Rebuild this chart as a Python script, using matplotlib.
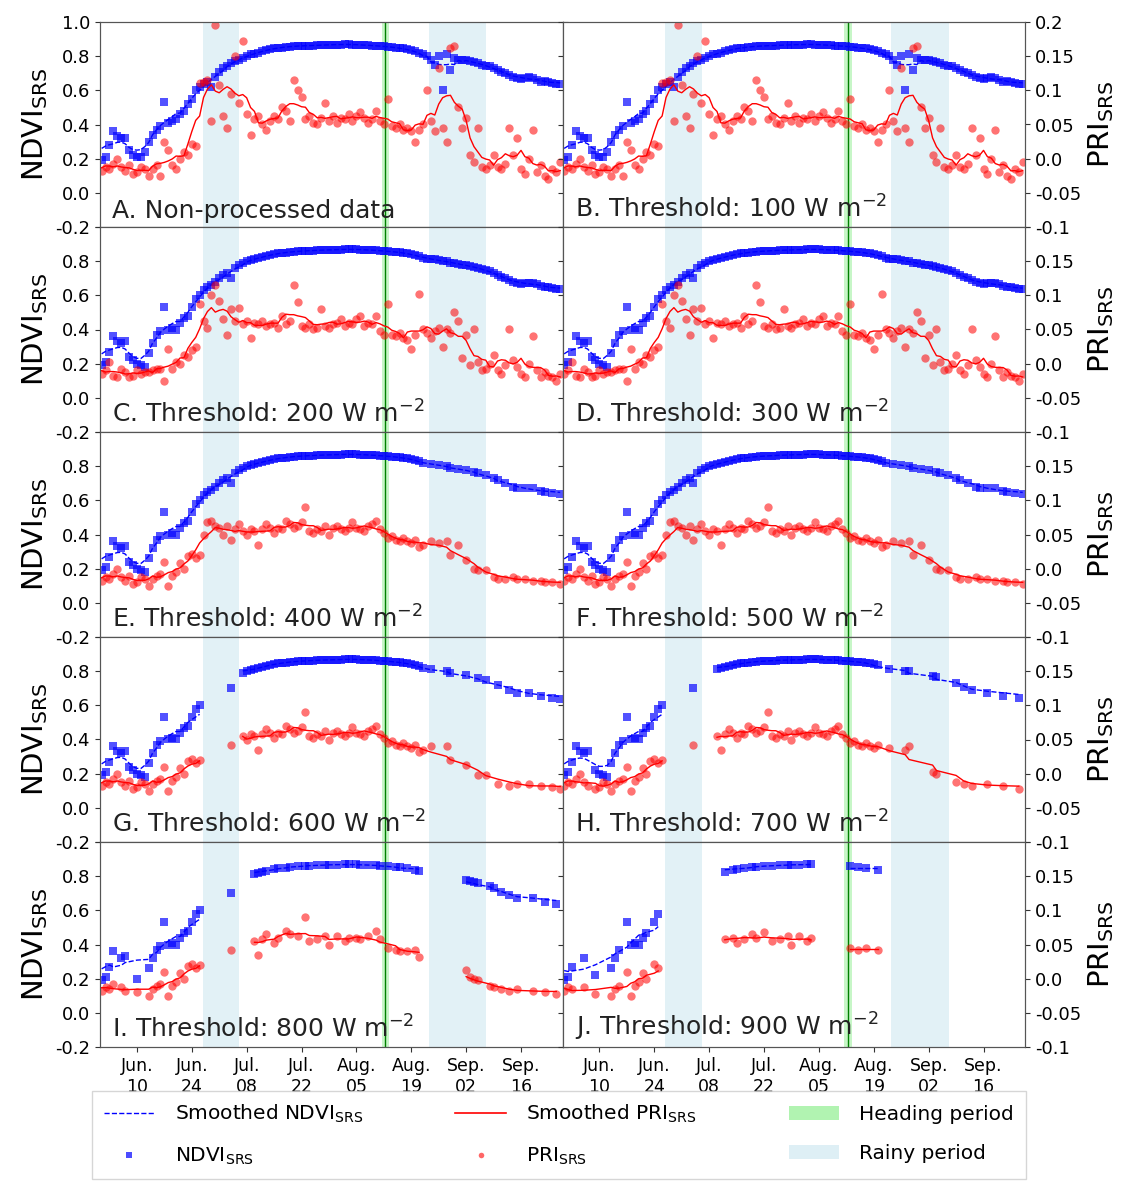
import numpy as np
import pandas as pd
import matplotlib
matplotlib.use('Agg')
import matplotlib.pyplot as plt
from matplotlib.lines import Line2D
from matplotlib.patches import Patch

# daily series, Jun 1 .. Sep 26
dates = pd.date_range('2019-06-01', '2019-09-26', freq='D')

ndvi_raw = [0.19, 0.21, 0.28, 0.36, 0.33, 0.32, 0.32, 0.25, 0.22, 0.21,
            0.21, 0.24, 0.30, 0.34, 0.37, 0.39, 0.53, 0.41, 0.42, 0.43,
            0.46, 0.48, 0.52, 0.55, 0.60, 0.62, 0.64, 0.65, 0.62, 0.68,
            0.71, 0.73, 0.74, 0.76, 0.77, 0.78, 0.79, 0.80, 0.81, 0.815,
            0.82, 0.83, 0.835, 0.84, 0.845, 0.85, 0.85, 0.855, 0.855, 0.86,
            0.86, 0.86, 0.86, 0.862, 0.862, 0.865, 0.865, 0.865, 0.866, 0.867,
            0.868, 0.868, 0.87, 0.87, 0.868, 0.868, 0.866, 0.865, 0.864, 0.862,
            0.86, 0.86, 0.858, 0.855, 0.853, 0.85, 0.848, 0.845, 0.84, 0.835,
            0.83, 0.82, 0.81, 0.80, 0.78, 0.75, 0.80, 0.60, 0.81, 0.72,
            0.79, 0.78, 0.78, 0.775, 0.77, 0.765, 0.76, 0.75, 0.745, 0.74,
            0.73, 0.72, 0.71, 0.70, 0.69, 0.68, 0.67, 0.665, 0.67, 0.68,
            0.67, 0.66, 0.65, 0.655, 0.65, 0.645, 0.64, 0.64]

pri_raw = [-0.018, -0.012, -0.015, -0.008, 0.000, -0.012, -0.018, -0.010, -0.022, -0.020,
           -0.012, -0.015, -0.025, -0.015, -0.010, -0.025, 0.025, 0.012, -0.010, -0.015,
           0.000, 0.010, 0.005, 0.022, 0.018, 0.110, 0.112, 0.115, 0.055, 0.195,
           0.108, 0.062, 0.045, 0.095, 0.150, 0.082, 0.172, 0.065, 0.035, 0.058,
           0.062, 0.050, 0.042, 0.055, 0.062, 0.058, 0.075, 0.070, 0.055, 0.115,
           0.100, 0.090, 0.058, 0.062, 0.052, 0.050, 0.060, 0.082, 0.055, 0.062,
           0.052, 0.060, 0.058, 0.065, 0.055, 0.062, 0.068, 0.060, 0.052, 0.058,
           0.070, 0.055, 0.050, 0.088, 0.048, 0.045, 0.050, 0.042, 0.045, 0.040,
           0.025, 0.042, 0.050, 0.100, 0.055, 0.040, 0.132, 0.045, 0.025, 0.162,
           0.165, 0.075, 0.045, 0.060, 0.005, -0.005, 0.045, -0.012, -0.015, -0.010,
           0.005, -0.012, -0.015, -0.008, 0.045, 0.005, 0.030, -0.015, -0.022, 0.000,
           0.042, -0.020, -0.010, -0.025, -0.030, -0.015, -0.020, -0.005]

ndvi_clean = [0.19, 0.21, 0.27, 0.36, 0.33, 0.32, 0.33, 0.24, 0.22, 0.20,
              0.19, 0.18, 0.26, 0.32, 0.37, 0.39, 0.53, 0.40, 0.41, 0.40,
              0.44, 0.47, 0.48, 0.53, 0.58, 0.60, 0.63, 0.65, 0.66, 0.68,
              0.70, 0.72, 0.73, 0.70, 0.76, 0.78, 0.79, 0.80, 0.805, 0.81,
              0.82, 0.825, 0.83, 0.835, 0.84, 0.845, 0.85, 0.85, 0.855, 0.855,
              0.858, 0.86, 0.86, 0.862, 0.862, 0.864, 0.865, 0.865, 0.866, 0.867,
              0.868, 0.868, 0.869, 0.87, 0.87, 0.869, 0.868, 0.867, 0.866, 0.865,
              0.863, 0.861, 0.86, 0.858, 0.856, 0.854, 0.852, 0.85, 0.845, 0.84,
              0.835, 0.83, 0.82, 0.815, 0.81, 0.81, 0.805, 0.80, 0.80, 0.79,
              0.79, 0.785, 0.78, 0.775, 0.77, 0.765, 0.76, 0.755, 0.75, 0.74,
              0.73, 0.72, 0.71, 0.70, 0.69, 0.68, 0.67, 0.665, 0.67, 0.675,
              0.67, 0.665, 0.655, 0.65, 0.65, 0.645, 0.64, 0.635]

pri_200 = [-0.015, -0.010, 0.002, -0.018, -0.020, -0.008, -0.012, -0.020, -0.018, -0.010,
           -0.015, -0.012, -0.012, -0.010, -0.008, -0.008, -0.025, 0.022, -0.008, 0.002,
           0.000, 0.012, 0.010, 0.020, 0.025, 0.088, 0.062, 0.052, 0.100, 0.115,
           0.092, 0.065, 0.042, 0.080, 0.062, 0.082, 0.058, 0.062, 0.038, 0.060,
           0.058, 0.062, 0.055, 0.058, 0.060, 0.052, 0.070, 0.058, 0.062, 0.115,
           0.090, 0.055, 0.052, 0.058, 0.050, 0.052, 0.080, 0.055, 0.052, 0.058,
           0.060, 0.065, 0.055, 0.060, 0.058, 0.065, 0.070, 0.055, 0.060, 0.058,
           0.070, 0.048, 0.042, 0.088, 0.042, 0.040, 0.045, 0.038, 0.035, 0.022,
           0.042, 0.102, 0.050, 0.045, 0.038, 0.048, 0.052, 0.025, 0.050, 0.045,
           0.075, 0.062, 0.008, 0.042, -0.002, 0.050, 0.002, -0.010, -0.008, 0.000,
           0.012, -0.010, -0.015, -0.002, 0.050, 0.005, -0.005, -0.015, -0.020, 0.000,
           0.040, -0.010, -0.020, -0.012, -0.018, -0.020, -0.025, -0.015]

pri_400 = [-0.018, -0.012, -0.015, -0.008, 0.000, -0.012, -0.018, -0.010, -0.022, -0.020,
           -0.012, -0.015, -0.025, -0.015, -0.010, -0.008, 0.010, -0.025, -0.010, -0.005,
           0.008, 0.000, 0.018, 0.022, 0.015, 0.020, 0.050, 0.068, 0.070, 0.062,
           0.060, 0.050, 0.062, 0.042, 0.058, 0.065, 0.055, 0.050, 0.058, 0.055,
           0.035, 0.058, 0.065, 0.060, 0.052, 0.060, 0.058, 0.070, 0.065, 0.060,
           0.062, 0.068, 0.090, 0.055, 0.052, 0.058, 0.055, 0.062, 0.050, 0.060,
           0.062, 0.058, 0.055, 0.060, 0.068, 0.060, 0.058, 0.055, 0.062, 0.065,
           0.070, 0.058, 0.052, 0.045, 0.048, 0.042, 0.040, 0.045, 0.040, 0.038,
           0.042, 0.032, 0.035, 0.038, 0.040, 0.025, 0.038, 0.035, 0.040, 0.020,
           0.032, 0.035, 0.025, 0.012, 0.002, 0.000, -0.002, -0.005, -0.002, -0.010,
           -0.012, -0.015, -0.015, -0.015, -0.018, -0.012, -0.015, -0.018, -0.015, -0.015,
           -0.018, -0.015, -0.018, -0.020, -0.018, -0.020, -0.022, -0.022]

# days with data (index from Jun 1), split where the smoothed line breaks
segs_all = [list(range(0, 118))]
segs_400 = [list(range(0, 83)) + [84, 86, 88, 89, 91, 93, 95, 96, 98, 100, 101, 103,
                                   105, 106, 108, 110, 112, 113, 115, 117]]
segs_600 = [list(range(0, 26)), [33],
            list(range(36, 83)) + [84, 88, 89, 93, 96, 98, 101, 104, 106, 109, 112, 115, 117]]
segs_700 = [[0, 1, 2, 3, 4, 5, 6, 8, 9, 10, 11, 12, 13, 14, 15, 16, 17, 18, 19, 20, 21, 22, 23, 24, 25],
            [33],
            list(range(39, 81)) + [83, 87, 88, 94, 95, 100, 102, 104, 108, 112, 116]]
segs_800 = [[0, 1, 2, 3, 5, 6, 9, 12, 13, 14, 15, 16, 17, 18, 19, 20, 21, 22, 23, 24, 25],
            [33],
            [39, 40, 41, 42, 44, 45, 47, 48, 50, 52, 53, 55, 57, 58, 60, 62, 63, 65, 66, 68,
             70, 71, 73, 75, 76, 78, 80, 81],
            [93, 94, 95, 96, 99, 100, 102, 104, 106, 110, 113, 116]]
segs_900 = [[0, 1, 2, 5, 8, 12, 13, 14, 16, 17, 18, 19, 20, 21, 23, 24],
            [41, 43, 44, 46, 48, 49, 51, 53, 55, 57, 58, 60, 62, 63],
            [73, 75, 77, 80]]

titles = ['A. Non-processed data', 'B. Threshold: 100 W m$^{-2}$',
          'C. Threshold: 200 W m$^{-2}$', 'D. Threshold: 300 W m$^{-2}$',
          'E. Threshold: 400 W m$^{-2}$', 'F. Threshold: 500 W m$^{-2}$',
          'G. Threshold: 600 W m$^{-2}$', 'H. Threshold: 700 W m$^{-2}$',
          'I. Threshold: 800 W m$^{-2}$', 'J. Threshold: 900 W m$^{-2}$']
panel_ndvi = [ndvi_raw, ndvi_raw] + [ndvi_clean] * 8
panel_pri = [pri_raw, pri_raw, pri_200, pri_200] + [pri_400] * 6
panel_segs = [segs_all, segs_all, segs_all, segs_all, segs_400, segs_400,
              segs_600, segs_700, segs_800, segs_900]

rainy = [('2019-06-26 18:00', '2019-07-06 02:00'), ('2019-08-23 10:00', '2019-09-07 02:00')]
heading = ('2019-08-11 12:00', '2019-08-13 10:00')
heading_line = '2019-08-12 10:00'

tick_dates = ['2019-06-10', '2019-06-24', '2019-07-08', '2019-07-22',
              '2019-08-05', '2019-08-19', '2019-09-02', '2019-09-16']
tick_labels = ['Jun.\n10', 'Jun.\n24', 'Jul.\n08', 'Jul.\n22',
               'Aug.\n05', 'Aug.\n19', 'Sep.\n02', 'Sep.\n16']
ndvi_ticks = [-0.2, 0.0, 0.2, 0.4, 0.6, 0.8, 1.0]
ndvi_labels = ['-0.2', '0.0', '0.2', '0.4', '0.6', '0.8', '1.0']
pri_ticks = [-0.1, -0.05, 0.0, 0.05, 0.1, 0.15, 0.2]
pri_labels = ['-0.1', '-0.05', '0.0', '0.05', '0.1', '0.15', '0.2']

assert all(len(s) == len(dates) for s in [ndvi_raw, pri_raw, ndvi_clean, pri_200, pri_400])

fig = plt.figure(figsize=(11.33, 11.82), dpi=100)
gs = fig.add_gridspec(5, 2, left=100/1133, right=1025/1133, top=1-22/1182,
                      bottom=1-1047/1182, hspace=0, wspace=0)

spine_col = '#555555'
for k in range(10):
    r, c = divmod(k, 2)
    ax = fig.add_subplot(gs[r, c])
    ax2 = ax.twinx()

    for s, e in rainy:
        ax.axvspan(pd.Timestamp(s), pd.Timestamp(e), color='lightblue', alpha=0.35, lw=0, zorder=0)
    ax.axvspan(pd.Timestamp(heading[0]), pd.Timestamp(heading[1]), color='lightgreen',
               alpha=0.5, lw=0, zorder=0)
    ax.axvline(pd.Timestamp(heading_line), color='green', lw=1.0, zorder=0.5)

    nd = np.array(panel_ndvi[k])
    pr = np.array(panel_pri[k])
    for seg in panel_segs[k]:
        x = dates[seg]
        n = pd.Series(nd[seg])
        p = pd.Series(pr[seg])
        ax.plot(x, n, 's', color='blue', alpha=0.68, ms=5.8, mew=0)
        ax2.plot(x, p, 'o', color='red', alpha=0.55, ms=6, mew=0)
        if len(seg) > 1:
            ax.plot(x, n.rolling(7, center=True, min_periods=1).mean(), '--',
                    color='blue', lw=1)
            ax2.plot(x, p.rolling(7, center=True, min_periods=1).mean(), '-',
                     color='red', lw=1)

    ax.set_xlim(pd.Timestamp('2019-05-31 14:00'), pd.Timestamp('2019-09-26 14:00'))
    ax.set_ylim(-0.2, 1.0)
    ax2.set_ylim(-0.1, 0.2)

    ax.set_yticks(ndvi_ticks)
    ax2.set_yticks(pri_ticks)
    if c == 0:
        labs = list(ndvi_labels)
        if r > 0:
            labs[-1] = ''
        ax.set_yticklabels(labs, fontsize=13)
        ax2.set_yticklabels([])
        ax.set_ylabel('NDVI$_\\mathregular{SRS}$', fontsize=21, labelpad=4)
    else:
        labs = list(pri_labels)
        if r > 0:
            labs[-1] = ''
        ax2.set_yticklabels(labs, fontsize=13)
        ax.set_yticklabels([])
        ax2.set_ylabel('PRI$_\\mathregular{SRS}$', fontsize=21, labelpad=4)

    ax.set_xticks([pd.Timestamp(t) for t in tick_dates])
    if r == 4:
        ax.set_xticklabels(tick_labels, fontsize=12.5)
    else:
        ax.set_xticklabels([])
        ax.tick_params(axis='x', length=0)

    for a in (ax, ax2):
        for sp in a.spines.values():
            sp.set_color(spine_col)
        a.tick_params(colors='#333333', labelcolor='black')

    ax.text(0.026, 0.02, titles[k], transform=ax.transAxes, fontsize=18,
            ha='left', va='bottom', color='#222222', zorder=10)

handles = [Line2D([], [], color='blue', ls='--', lw=1),
           Line2D([], [], color='blue', marker='s', ls='none', ms=4, alpha=0.7, mew=0),
           Line2D([], [], color='red', lw=1.2),
           Line2D([], [], color='red', marker='o', ls='none', ms=4, alpha=0.6, mew=0),
           Patch(facecolor='lightgreen', alpha=0.7),
           Patch(facecolor='lightblue', alpha=0.4)]
labels = ['Smoothed NDVI$_\\mathregular{SRS}$', 'NDVI$_\\mathregular{SRS}$',
          'Smoothed PRI$_\\mathregular{SRS}$', 'PRI$_\\mathregular{SRS}$',
          'Heading period', 'Rainy period']
fig.legend(handles, labels, ncol=3, loc='lower left',
           bbox_to_anchor=(92/1133, 3/1182),
           fontsize=14.5, frameon=True, fancybox=False, edgecolor='#cccccc',
           handlelength=2.5, handletextpad=1.0, columnspacing=4.6,
           labelspacing=1.0, borderaxespad=0, borderpad=0.6)

plt.savefig('out.png', dpi=100)
